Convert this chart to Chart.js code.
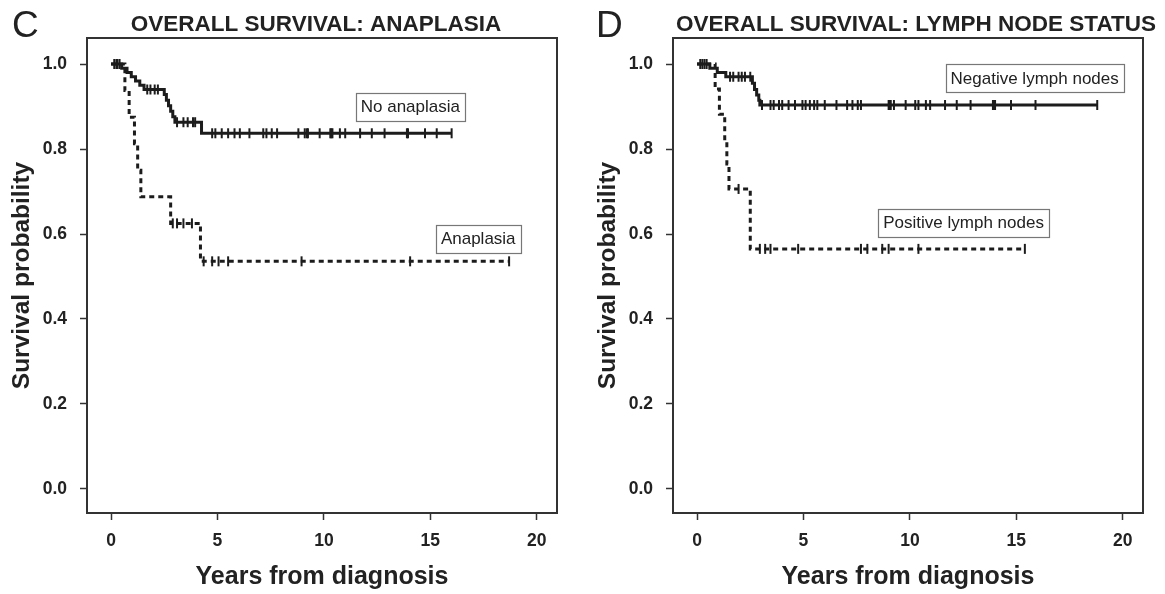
<!DOCTYPE html>
<html><head><meta charset="utf-8">
<script src="https://cdn.jsdelivr.net/npm/chart.js@4/dist/chart.umd.min.js"></script>
<style>
html,body{margin:0;padding:0;background:#fff;overflow:hidden;}
#wrap{position:relative;width:1165px;height:594px;}
canvas{position:absolute;top:0;}
</style></head><body>
<div id="wrap">
<canvas id="c1" width="586" height="594" style="left:0;width:586px;height:594px"></canvas>
<canvas id="c2" width="579" height="594" style="left:586px;width:579px;height:594px"></canvas>
</div>
<script>
// ---------- data ----------
const xTicks = [0, 5, 10, 15, 20];
const yTicks = [0, 0.2, 0.4, 0.6, 0.8, 1.0];

// Panel C: anaplasia
const noAnaTimes = [0, 0.5, 0.75, 0.95, 1.15, 1.35, 1.55, 2.5, 2.6, 2.7, 2.8, 2.9, 3.0, 4.25, 16.0];
const noAnaSurv  = [1.0, 0.99, 0.98, 0.97, 0.96, 0.95, 0.94, 0.928, 0.915, 0.902, 0.889, 0.876, 0.863, 0.837, 0.837];
const noAnaCensor = [0.15, 0.25, 0.3, 0.4, 1.7, 1.85, 2.05, 2.2, 3.1, 3.4, 3.6, 3.85, 3.95, 4.75, 4.9, 5.2, 5.5, 5.8, 6.05, 6.5, 7.15, 7.3, 7.55, 7.8, 8.8, 9.1, 9.2, 9.25, 9.8, 10.3, 10.35, 10.4, 10.75, 11.0, 11.7, 12.25, 12.85, 13.9, 13.95, 14.75, 15.3, 16.0];

const anaTimes = [0, 0.65, 0.85, 1.1, 1.25, 1.4, 2.8, 4.2, 18.7];
const anaSurv  = [1.0, 0.9375, 0.875, 0.8125, 0.75, 0.6875, 0.625, 0.5357, 0.5357];
const anaCensor = [2.9, 3.1, 3.4, 3.8, 4.35, 4.75, 5.05, 5.5, 8.95, 14.05, 18.7];

// Panel D: lymph node status
const negTimes = [0, 0.6, 0.95, 1.35, 2.6, 2.7, 2.8, 2.9, 2.95, 18.8];
const negSurv  = [1.0, 0.99, 0.98, 0.97, 0.955, 0.94, 0.927, 0.915, 0.9035, 0.9035];
const negCensor = [0.15, 0.25, 0.35, 0.45, 1.55, 1.7, 1.95, 2.1, 2.25, 2.5, 3.05, 3.45, 3.6, 3.85, 4.0, 4.3, 4.6, 4.95, 5.1, 5.3, 5.5, 5.65, 6.0, 6.55, 7.05, 7.3, 7.55, 7.7, 9.0, 9.05, 9.1, 9.25, 9.8, 10.25, 10.4, 10.75, 10.95, 11.65, 12.2, 12.85, 13.9, 13.95, 14.0, 14.75, 15.9, 18.8];

const posTimes = [0, 0.85, 1.05, 1.3, 1.4, 1.5, 2.5, 15.4];
const posSurv  = [1.0, 0.941, 0.882, 0.824, 0.765, 0.706, 0.565, 0.565];
const posCensor = [1.95, 2.95, 3.2, 3.45, 4.75, 7.7, 8.0, 8.7, 9.0, 10.4, 15.4];

// ---------- helpers ----------
Chart.defaults.font.family = "'Liberation Sans', Arial, Helvetica, sans-serif";
Chart.defaults.color = '#222';
const INK = '#1c1c1c';

function steps(times, surv) { return times.map((t, i) => ({x: t, y: surv[i]})); }
function survAt(times, surv, t) {
  let v = surv[0];
  for (let i = 0; i < times.length; i++) if (times[i] <= t) v = surv[i];
  return v;
}
function censorPts(times, surv, cens) { return cens.map(t => ({x: t, y: survAt(times, surv, t)})); }

const framePlugin = {
  id: 'frame',
  afterDraw(chart, args, o) {
    const {ctx, chartArea: a, scales} = chart;
    ctx.save();
    ctx.strokeStyle = '#333'; ctx.lineWidth = 2;
    ctx.strokeRect(a.left, a.top, a.right - a.left, a.bottom - a.top);
    // panel letter
    ctx.fillStyle = '#222';
    ctx.font = "37px 'Liberation Sans', Arial, sans-serif";
    ctx.textAlign = 'left'; ctx.textBaseline = 'alphabetic';
    ctx.fillText(o.letter, o.letterX, 37);
    // title
    ctx.font = "bold 22.5px 'Liberation Sans', Arial, sans-serif";
    ctx.textAlign = 'center';
    ctx.fillText(o.title, o.titleX, 31);
    // boxed labels
    ctx.font = "17px 'Liberation Sans', Arial, sans-serif";
    ctx.textBaseline = 'middle';
    o.boxes.forEach(b => {
      const cx = scales.x.getPixelForValue(b.x), cy = scales.y.getPixelForValue(b.y);
      const w = ctx.measureText(b.text).width + 10, h = 28;
      ctx.fillStyle = '#fff';
      ctx.fillRect(cx - w / 2, cy - h / 2, w, h);
      ctx.strokeStyle = '#777'; ctx.lineWidth = 1.2;
      ctx.strokeRect(Math.round(cx - w / 2) + 0.5, Math.round(cy - h / 2) + 0.5, Math.round(w), h);
      ctx.fillStyle = '#222';
      ctx.fillText(b.text, cx, cy + 1);
    });
    ctx.restore();
  }
};

function makeChart(id, canvasW, solid, dashed, frameOpts) {
  const ds = [
    {data: steps(solid.t, solid.s), borderColor: INK, borderWidth: 3, stepped: true, pointRadius: 0, fill: false},
    {data: censorPts(solid.t, solid.s, solid.c), showLine: false, pointStyle: 'line', rotation: 90, pointRadius: 5, borderColor: INK, pointBorderWidth: 2, borderWidth: 2},
    {data: steps(dashed.t, dashed.s), borderColor: INK, borderWidth: 3, borderDash: [5, 4], stepped: true, pointRadius: 0, fill: false},
    {data: censorPts(dashed.t, dashed.s, dashed.c), showLine: false, pointStyle: 'line', rotation: 90, pointRadius: 5, borderColor: INK, pointBorderWidth: 2, borderWidth: 2}
  ];
  return new Chart(document.getElementById(id), {
    type: 'line',
    data: {datasets: ds},
    plugins: [framePlugin],
    options: {
      responsive: false, animation: false, events: [],
      layout: {padding: {left: 0, top: 38, right: canvasW - 557, bottom: 0}},
      plugins: {legend: {display: false}, tooltip: {enabled: false}, frame: frameOpts},
      scales: {
        x: {
          type: 'linear', min: -1.13, max: 20.95,
          afterBuildTicks: s => { s.ticks = xTicks.map(v => ({value: v})); },
          afterFit: s => { s.height = 81; },
          ticks: {font: {size: 17.5, weight: 'bold'}, color: '#222', padding: 11, callback: v => String(v), autoSkip: false, maxRotation: 0},
          grid: {drawOnChartArea: false, drawTicks: true, tickLength: 7, tickColor: '#333', tickWidth: 1.5},
          border: {display: false},
          title: {display: true, text: 'Years from diagnosis', font: {size: 25, weight: 'bold'}, color: '#222', padding: {top: 0, bottom: 2}}
        },
        y: {
          type: 'linear', min: -0.0565, max: 1.0612,
          afterBuildTicks: s => { s.ticks = yTicks.map(v => ({value: v})); },
          afterFit: s => { s.width = 87; },
          ticks: {font: {size: 17.5, weight: 'bold'}, color: '#222', padding: 13, callback: v => Number(v).toFixed(1), autoSkip: false},
          grid: {drawOnChartArea: false, drawTicks: true, tickLength: 7, tickColor: '#333', tickWidth: 1.5},
          border: {display: false},
          title: {display: true, text: 'Survival probability', font: {size: 24.5, weight: 'bold'}, color: '#222', padding: {top: 8, bottom: 0}}
        }
      }
    }
  });
}

makeChart('c1', 586,
  {t: noAnaTimes, s: noAnaSurv, c: noAnaCensor},
  {t: anaTimes, s: anaSurv, c: anaCensor},
  {letter: 'C', letterX: 12, title: 'OVERALL SURVIVAL: ANAPLASIA', titleX: 316,
   boxes: [{text: 'No anaplasia', x: 14.06, y: 0.90}, {text: 'Anaplasia', x: 17.25, y: 0.589}]});

makeChart('c2', 579,
  {t: negTimes, s: negSurv, c: negCensor},
  {t: posTimes, s: posSurv, c: posCensor},
  {letter: 'D', letterX: 10, title: 'OVERALL SURVIVAL: LYMPH NODE STATUS', titleX: 330,
   boxes: [{text: 'Negative lymph nodes', x: 15.86, y: 0.967}, {text: 'Positive lymph nodes', x: 12.52, y: 0.627}]});
</script>
</body></html>
